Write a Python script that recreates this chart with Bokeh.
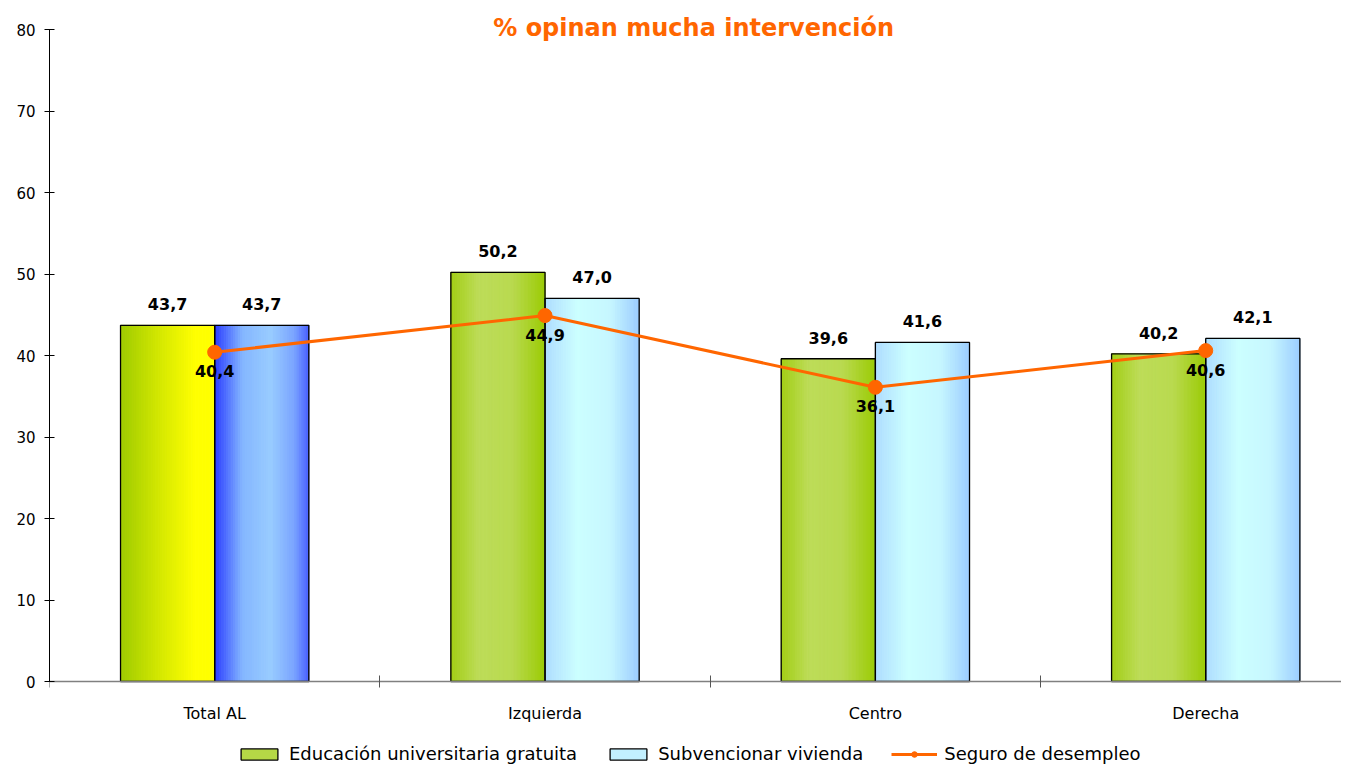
import numpy as np
from bokeh.plotting import figure
from bokeh.models import ColumnDataSource, Range1d, FixedTicker, Label, Legend, LegendItem
from bokeh.core.properties import value
from bokeh.embed import file_html
from bokeh.resources import INLINE

# ---------------- data ----------------
categories = ["Total AL", "Izquierda", "Centro", "Derecha"]
educacion = [43.7, 50.2, 39.6, 40.2]
vivienda = [43.7, 47.0, 41.6, 42.1]
seguro = [40.4, 44.9, 36.1, 40.6]
series_names = ["Educación universitaria gratuita", "Subvencionar vivienda", "Seguro de desempleo"]
y_ticks = [0, 10, 20, 30, 40, 50, 60, 70, 80]
title_text = "% opinan mucha intervención"

# ---------------- styles ----------------
ORANGE = "#FF6600"
FONT = "DejaVu Sans"
BAR_W = 0.285
NSTRIP = 40
PX_PER_UNIT = 8.15          # vertical scale of the reference
edu_total_stops = [(0.0, "#9ecb00"), (0.45, "#d8ea00"), (0.8, "#ffff00"), (1.0, "#ffff00")]
viv_total_stops = [(0.0, "#2a3cff"), (0.3, "#84b6ff"), (0.6, "#99ccff"), (0.85, "#7aa4ff"), (1.0, "#4a62ff")]
edu_stops = [(0.0, "#a2ce14"), (0.3, "#bddc58"), (0.65, "#b9da50"), (1.0, "#9ccb06")]
viv_stops = [(0.0, "#aedcff"), (0.35, "#ccffff"), (0.7, "#c6f6ff"), (1.0, "#9ccdff")]


def hex2rgb(h):
    return tuple(int(h[i:i + 2], 16) for i in (1, 3, 5))


def interp(stops, t):
    for (t0, c0), (t1, c1) in zip(stops[:-1], stops[1:]):
        if t0 <= t <= t1:
            f = 0 if t1 == t0 else (t - t0) / (t1 - t0)
            a, b = hex2rgb(c0), hex2rgb(c1)
            return "#%02x%02x%02x" % tuple(int(round(a[k] + (b[k] - a[k]) * f)) for k in range(3))
    return stops[-1][1]


def fmt(v):
    return f"{v:.1f}".replace(".", ",")


xs = list(range(len(categories)))

W, H = 1341, 764
y_top = 80 + 29 / PX_PER_UNIT
y_bot = -(H - 681) / PX_PER_UNIT
p = figure(width=W, height=H, x_range=Range1d(-0.5, 3.411), y_range=Range1d(y_bot, y_top),
           output_backend="svg", toolbar_location=None,
           min_border_left=49, min_border_right=0, min_border_top=0, min_border_bottom=0)
p.outline_line_color = None
p.xgrid.visible = False
p.ygrid.visible = False
p.background_fill_color = "white"

# ---------------- gradient bars (vertical strips) ----------------
sl, sr, st, sc = [], [], [], []
ol, orr, ot = [], [], []
for i, cat in enumerate(categories):
    for vals, side, stops in ((educacion, -1, edu_total_stops if i == 0 else edu_stops),
                              (vivienda, 0, viv_total_stops if i == 0 else viv_stops)):
        x0 = xs[i] + side * BAR_W
        for k in range(NSTRIP):
            l = x0 + k * BAR_W / NSTRIP
            sl.append(l)
            sr.append(l + BAR_W / NSTRIP)
            st.append(vals[i])
            sc.append(interp(stops, (k + 0.5) / NSTRIP))
        ol.append(x0)
        orr.append(x0 + BAR_W)
        ot.append(vals[i])

strips = ColumnDataSource(dict(left=sl, right=sr, top=st, bottom=[0] * len(st), color=sc))
p.quad(left="left", right="right", top="top", bottom="bottom", fill_color="color",
       line_color="color", line_width=1, source=strips)
outl = ColumnDataSource(dict(left=ol, right=orr, top=ot, bottom=[0] * len(ot)))
p.quad(left="left", right="right", top="top", bottom="bottom", fill_color=None,
       line_color="black", line_width=1.3, source=outl)

# bar value labels
lab_x = [x - BAR_W / 2 for x in xs] + [x + BAR_W / 2 for x in xs]
lab_y = educacion + vivienda
lab_t = [fmt(v) for v in lab_y]
p.text(x=lab_x, y=lab_y, text=lab_t, text_align="center", text_baseline="middle", y_offset=-21,
       text_font=value(FONT), text_font_style="bold", text_font_size=value("16px"), text_color="black")

# ---------------- line ----------------
line_r = p.line(x=xs, y=seguro, line_color=ORANGE, line_width=3)
dot_r = p.scatter(x=xs, y=seguro, size=14, fill_color=ORANGE, line_color=ORANGE)
p.text(x=xs, y=seguro, text=[fmt(v) for v in seguro], text_align="center", text_baseline="middle",
       y_offset=19, text_font=value(FONT), text_font_style="bold", text_font_size=value("16px"),
       text_color="black")

# ---------------- axes ----------------
p.yaxis.ticker = FixedTicker(ticks=y_ticks)
p.yaxis.bounds = (0, 80)
p.yaxis.major_tick_in = 5
p.yaxis.major_tick_out = 5
p.yaxis.minor_tick_line_color = None
p.yaxis.axis_line_color = "black"
p.yaxis.major_tick_line_color = "black"
p.yaxis.major_label_text_font = FONT
p.yaxis.major_label_text_font_size = "15px"
p.yaxis.major_label_text_color = "black"
p.yaxis.major_label_standoff = 9

p.xaxis.fixed_location = 0
p.xaxis.ticker = FixedTicker(ticks=xs, minor_ticks=[x - 0.5 for x in xs] + [xs[-1] + 0.5])
p.xaxis.major_label_overrides = {x: c for x, c in zip(xs, categories)}
p.xaxis.major_tick_line_color = None
p.xaxis.major_tick_in = 0
p.xaxis.major_tick_out = 0
p.xaxis.minor_tick_in = 6
p.xaxis.minor_tick_out = 6
p.xaxis.minor_tick_line_color = "#555555"
p.xaxis.axis_line_color = "#808080"
p.xaxis.axis_line_width = 1.5
p.xaxis.major_label_text_font = FONT
p.xaxis.major_label_text_font_size = "16px"
p.xaxis.major_label_text_color = "black"
p.xaxis.major_label_standoff = 16

# ---------------- title ----------------
p.add_layout(Label(x=1.45, y=80 + 2 / PX_PER_UNIT, text=title_text, text_align="center",
                   text_baseline="middle", text_font=FONT, text_font_style="bold",
                   text_font_size="24px", text_color=ORANGE))

# ---------------- legend ----------------
nan = float("nan")
src_leg = ColumnDataSource(dict(left=[nan], right=[nan], top=[nan], bottom=[nan]))
leg_edu = p.quad(left="left", right="right", top="top", bottom="bottom", source=src_leg,
                 fill_color="#b5d846", line_color="black", line_width=1.3)
leg_viv = p.quad(left="left", right="right", top="top", bottom="bottom", source=src_leg,
                 fill_color="#c2f0ff", line_color="black", line_width=1.3)
legend = Legend(items=[LegendItem(label=series_names[0], renderers=[leg_edu]),
                       LegendItem(label=series_names[1], renderers=[leg_viv]),
                       LegendItem(label=series_names[2], renderers=[line_r, dot_r])],
                orientation="horizontal", location=(187, 0), border_line_color=None,
                background_fill_alpha=0, padding=0, margin=0, label_standoff=7,
                glyph_width=46, glyph_height=14, spacing=28,
                label_text_font=FONT, label_text_font_size="18px", label_text_color="black")
p.add_layout(legend)

open("out.html", "w").write(file_html(p, INLINE))
